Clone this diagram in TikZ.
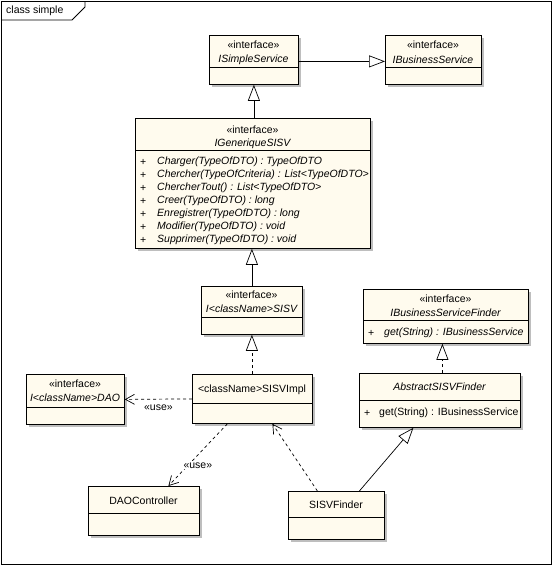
\documentclass[tikz,border=0pt]{standalone}
\usepackage{fontspec}
\setmainfont{Liberation Sans}
\usetikzlibrary{arrows.meta,shadows}
\definecolor{boxfill}{RGB}{255,251,238}
\definecolor{shadowgray}{RGB}{190,190,190}
\begin{document}
\begin{tikzpicture}[x=1pt,y=-1pt,
  font=\fontsize{10.5}{12}\selectfont,
  umlbox/.style={draw=black, fill=boxfill, line width=0.8pt, inner sep=0pt, anchor=north west,
    drop shadow={shadow xshift=3pt, shadow yshift=-3pt, fill=shadowgray, opacity=1}},
  sep/.style={line width=0.8pt},
  txt/.style={inner sep=0pt, anchor=center},
  ltxt/.style={inner sep=0pt, anchor=west},
  gen/.style={draw, line width=0.7pt, -{Triangle[open,length=16pt,width=12pt]}},
  real/.style={gen, dash pattern=on 3pt off 3pt},
  dep/.style={draw, line width=0.7pt, dash pattern=on 3pt off 3pt, -{Straight Barb[length=9pt,width=10pt]}},
]
\useasboundingbox (0,0) rectangle (553,565);

% frame
\draw[line width=0.9pt] (1,1) rectangle (551,564);
\draw[line width=0.9pt] (1,20) -- (72,20) -- (85,7) -- (85,1);
\node[ltxt] (frametitle) at (6,11) {class simple};

% ISimpleService
\node[umlbox, minimum width=89pt, minimum height=49pt] (iss) at (209,35) {};
\draw[sep] (209,67) -- (298,67);
\node[txt] (iss-st) at (253.5,45) {«interface»};
\node[txt] (iss-nm) at (253.5,60) {\itshape ISimpleService};

% IBusinessService
\node[umlbox, minimum width=96pt, minimum height=49pt] (ibs) at (385,35) {};
\draw[sep] (385,67) -- (481,67);
\node[txt] (ibs-st) at (433,45) {«interface»};
\node[txt] (ibs-nm) at (433,60) {\itshape IBusinessService};

% IGeneriqueSISV
\node[umlbox, minimum width=235pt, minimum height=130pt] (igs) at (135,118) {};
\draw[sep] (135,150) -- (370,150);
\node[txt] (igs-st) at (252.5,130) {«interface»};
\node[txt] (igs-nm) at (252.5,144) {\itshape IGeneriqueSISV};
\foreach \y/\m [count=\i] in {
  162/{Charger(TypeOfDTO) : TypeOfDTO},
  175/{Chercher(TypeOfCriteria) : List<TypeOfDTO>},
  188/{ChercherTout() : List<TypeOfDTO>},
  201/{Creer(TypeOfDTO) : long},
  214/{Enregistrer(TypeOfDTO) : long},
  227/{Modifier(TypeOfDTO) : void},
  240/{Supprimer(TypeOfDTO) : void}} {
  \node[ltxt] (igs-p\i) at (140,\y) {+};
  \node[ltxt] (igs-m\i) at (157,\y) {\itshape \m};
}

% I<className>SISV
\node[umlbox, minimum width=101pt, minimum height=48pt] (isisv) at (201,286) {};
\draw[sep] (201,317) -- (302,317);
\node[txt] (isisv-st) at (251.5,295) {«interface»};
\node[txt] (isisv-nm) at (251.5,309) {\itshape I<className>SISV};

% IBusinessServiceFinder
\node[umlbox, minimum width=165pt, minimum height=54pt] (ibsf) at (363,289) {};
\draw[sep] (363,320) -- (528,320);
\node[txt] (ibsf-st) at (445.5,299) {«interface»};
\node[txt] (ibsf-nm) at (445.5,313) {\itshape IBusinessServiceFinder};
\node[ltxt] (ibsf-p) at (368,333) {+};
\node[ltxt] (ibsf-m) at (384,333) {\itshape get(String) : IBusinessService};

% AbstractSISVFinder
\node[umlbox, minimum width=161pt, minimum height=54pt] (abs) at (359,373) {};
\draw[sep] (359,400) -- (520,400);
\node[txt] (abs-nm) at (439.5,387) {\itshape AbstractSISVFinder};
\node[ltxt] (abs-p) at (364,413) {+};
\node[ltxt] (abs-m) at (379,413) {get(String) : IBusinessService};

% I<className>DAO
\node[umlbox, minimum width=98pt, minimum height=50pt] (dao) at (26,374) {};
\draw[sep] (26,407) -- (124,407);
\node[txt] (dao-st) at (75,384) {«interface»};
\node[txt] (dao-nm) at (75,398) {\itshape I<className>DAO};

% <className>SISVImpl
\node[umlbox, minimum width=120pt, minimum height=49pt] (impl) at (192,374) {};
\draw[sep] (192,403) -- (312,403);
\node[txt] (impl-nm) at (252,390) {<className>SISVImpl};

% DAOController
\node[umlbox, minimum width=111pt, minimum height=49pt] (daoc) at (88,486) {};
\draw[sep] (88,513) -- (199,513);
\node[txt] (daoc-nm) at (143.5,501) {DAOController};

% SISVFinder
\node[umlbox, minimum width=96pt, minimum height=48pt] (finder) at (288,491) {};
\draw[sep] (288,517) -- (384,517);
\node[txt] (finder-nm) at (336,505) {SISVFinder};

% connectors
\draw[gen] ([yshift=-1.5pt]iss.east) -- ([yshift=-1.5pt]ibs.west);
\draw[gen] (igs.north -| iss.south) -- (iss.south);
\draw[gen] (isisv.north) -- (igs.south -| isisv.north);
\draw[real] (impl.north -| isisv.south) -- (isisv.south);
\draw[dep] (impl.west) -- (dao.east) node[pos=0.5, below=4pt, inner sep=1pt] (use1) {«use»};
\draw[dep] ([xshift=-25pt]impl.south) -- ([xshift=24.5pt]daoc.north) node[pos=0.67, xshift=10pt, inner sep=1pt, fill=white] (use2) {«use»};
\draw[dep] ([xshift=-19pt]finder.north) -- ([xshift=20pt]impl.south);
\draw[gen] ([xshift=23pt]finder.north) -- ([xshift=-26.5pt]abs.south);
\draw[real] ([xshift=2.5pt]abs.north) -- ([xshift=-3.5pt]ibsf.south);
\end{tikzpicture}
\end{document}
